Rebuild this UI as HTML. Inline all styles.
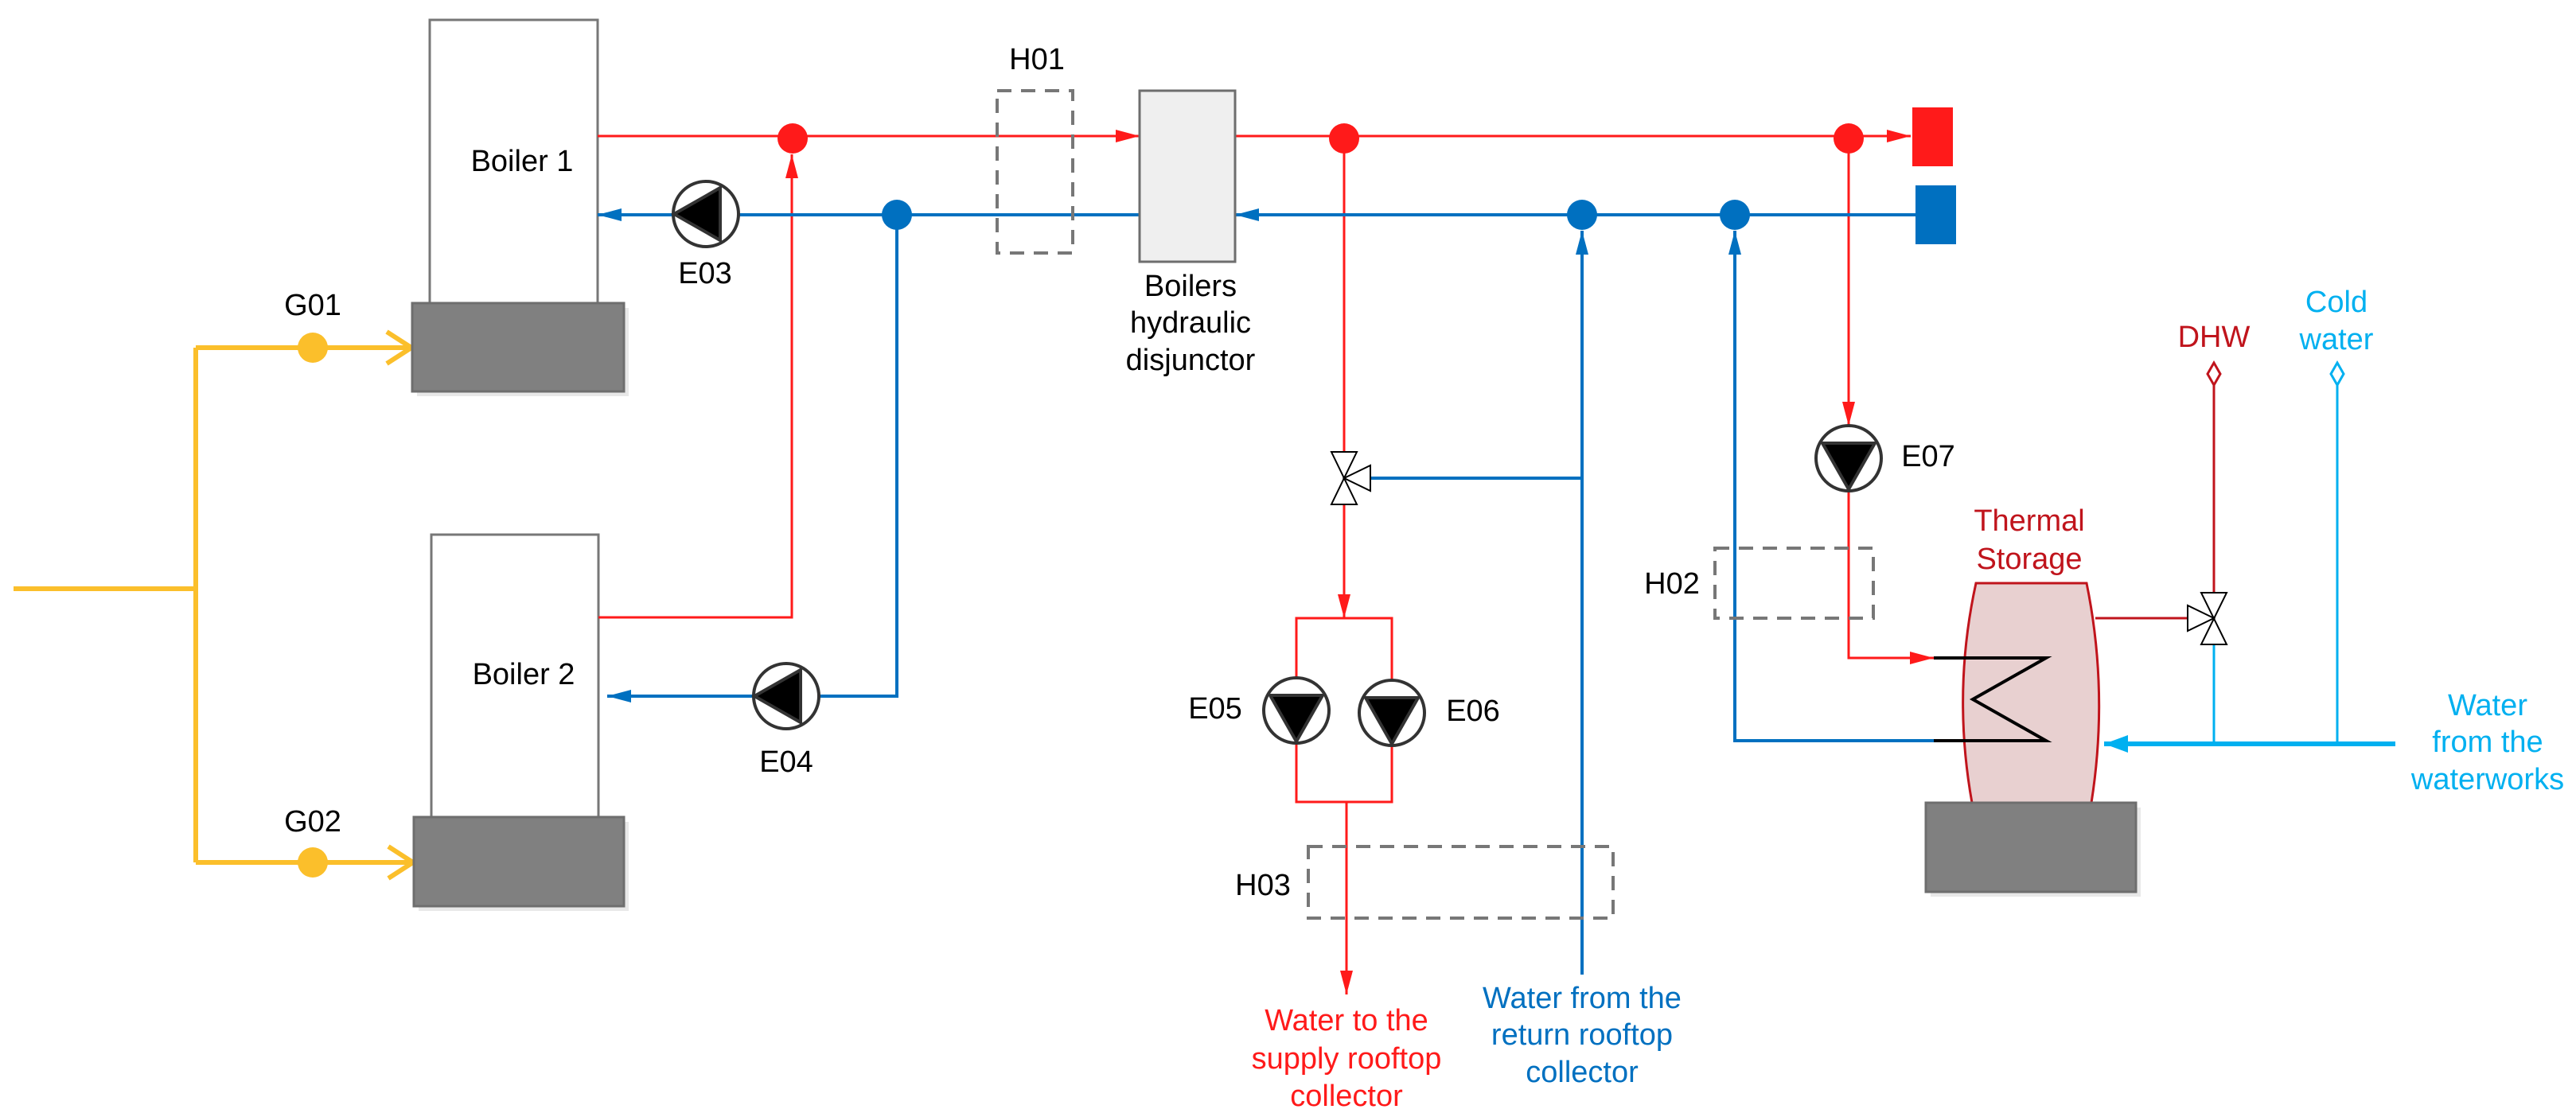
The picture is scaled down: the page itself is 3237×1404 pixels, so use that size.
<!DOCTYPE html>
<html><head><meta charset="utf-8"><style>
html,body{margin:0;padding:0;background:#fff}
svg{display:block}
text{font-family:"Liberation Sans",Arial,sans-serif;font-size:38px;text-anchor:middle;dominant-baseline:middle}
</style></head><body>
<svg width="3237" height="1404" viewBox="0 0 3237 1404" xmlns="http://www.w3.org/2000/svg">
<defs>
<marker id="ar" markerWidth="30" markerHeight="16" refX="30" refY="8" orient="auto" markerUnits="userSpaceOnUse"><path d="M0,0 L30,8 L0,16 Z" fill="#ff1a1a"/></marker>
<marker id="ab" markerWidth="30" markerHeight="16" refX="30" refY="8" orient="auto" markerUnits="userSpaceOnUse"><path d="M0,0 L30,8 L0,16 Z" fill="#0070c0"/></marker>
<marker id="ac" markerWidth="30" markerHeight="22" refX="30" refY="11" orient="auto" markerUnits="userSpaceOnUse"><path d="M0,0 L30,11 L0,22 Z" fill="#00b0f0"/></marker>
</defs>

<!-- Gas lines -->
<g stroke="#fbbf2b" stroke-width="6" fill="none">
<path d="M17,740 H246"/>
<path d="M246,437 V1084"/>
<path d="M246,437 H517"/>
<path d="M246,1084 H519"/>
<path d="M486,417 L517,437 L486,457"/>
<path d="M488,1064 L519,1084 L488,1104"/>
</g>
<circle cx="393" cy="437" r="19" fill="#fbbf2b"/>
<circle cx="393" cy="1084" r="19" fill="#fbbf2b"/>
<text x="393" y="386">G01</text>
<text x="393" y="1035">G02</text>

<!-- Boilers -->
<rect x="540" y="25" width="211" height="356" fill="#fff" stroke="#777" stroke-width="3"/>
<rect x="524" y="387" width="266" height="111" fill="#e8e8e8"/>
<rect x="518" y="381" width="266" height="111" fill="#808080" stroke="#6e6e6e" stroke-width="3"/>
<text x="656" y="205">Boiler 1</text>
<rect x="542" y="672" width="210" height="355" fill="#fff" stroke="#777" stroke-width="3"/>
<rect x="526" y="1033" width="264" height="112" fill="#e8e8e8"/>
<rect x="520" y="1027" width="264" height="112" fill="#808080" stroke="#6e6e6e" stroke-width="3"/>
<text x="658" y="850">Boiler 2</text>

<!-- Red supply network -->
<g stroke="#ff1a1a" stroke-width="3" fill="none">
<path d="M751,171 H1432" marker-end="url(#ar)"/>
<path d="M752,776 H995 V194" marker-end="url(#ar)"/>
<path d="M1552,171 H2401" marker-end="url(#ar)"/>
<path d="M1689,174 V568"/>
<path d="M1689,634 V777" marker-end="url(#ar)"/>
<path d="M1629,777 H1749 V1008 H1629 Z"/>
<path d="M1692,1008 V1250" marker-end="url(#ar)"/>
<path d="M2323,174 V535" marker-end="url(#ar)"/>
<path d="M2323,617 V827 H2430" marker-end="url(#ar)"/>
</g>
<g stroke="#c0141c" stroke-width="3" fill="none">
<path d="M2633,777 H2749"/>
<path d="M2782,484 V745"/>
<path d="M2782,456 L2790,470 L2782,484 L2774,470 Z" fill="#fff"/>
</g>

<!-- Blue return network -->
<g stroke="#0070c0" stroke-width="4" fill="none">
<path d="M2407,270 H1552" marker-end="url(#ab)"/>
<path d="M1432,270 H751" marker-end="url(#ab)"/>
<path d="M1127,270 V875 H763" marker-end="url(#ab)"/>
<path d="M1988,1225 V290" marker-end="url(#ab)"/>
<path d="M1722,601 H1988"/>
<path d="M2430,931 H2180 V290" marker-end="url(#ab)"/>
</g>
<!-- Cyan -->
<g stroke="#00b0f0" stroke-width="3" fill="none">
<path d="M2782,810 V935"/>
<path d="M2937,484 V935"/>
<path d="M2937,456 L2945,470 L2937,484 L2929,470 Z" fill="#fff"/>
</g>
<path d="M3010,935 H2644" stroke="#00b0f0" stroke-width="6" fill="none" marker-end="url(#ac)"/>

<!-- Dots -->
<g fill="#ff1a1a"><circle cx="996" cy="174" r="19"/><circle cx="1689" cy="174" r="19"/><circle cx="2323" cy="174" r="19"/></g>
<g fill="#0070c0"><circle cx="1127" cy="270" r="19"/><circle cx="1988" cy="270" r="19"/><circle cx="2180" cy="270" r="19"/></g>

<!-- Terminals -->
<rect x="2403" y="135" width="51" height="74" fill="#ff1a1a"/>
<rect x="2407" y="233" width="51" height="74" fill="#0070c0"/>

<!-- Dashed boxes -->
<g stroke="#777" stroke-width="4" stroke-dasharray="18,12" fill="none">
<rect x="1253" y="114" width="95" height="204"/>
<rect x="2155" y="689" width="199" height="88"/>
<rect x="1644" y="1064" width="383" height="90"/>
</g>
<text x="1303" y="77">H01</text>
<text x="2101" y="736">H02</text>
<text x="1587" y="1115">H03</text>

<!-- Disjunctor -->
<rect x="1432" y="114" width="120" height="215" fill="#efefef" stroke="#6e6e6e" stroke-width="3"/>
<text x="1496" y="362">Boilers</text>
<text x="1496" y="408">hydraulic</text>
<text x="1496" y="455">disjunctor</text>

<!-- Pumps -->
<g stroke="#333" stroke-width="4">
<circle cx="887" cy="269" r="41" fill="#fff"/>
<path d="M847,269 L905,236 L905,302 Z" fill="#000"/>
<circle cx="988" cy="875" r="41" fill="#fff"/>
<path d="M948,875 L1006,842 L1006,908 Z" fill="#000"/>
<circle cx="2323" cy="576" r="41" fill="#fff"/>
<path d="M2290,557 L2356,557 L2323,615 Z" fill="#000"/>
<circle cx="1629" cy="893" r="41" fill="#fff"/>
<path d="M1596,874 L1662,874 L1629,932 Z" fill="#000"/>
<circle cx="1749" cy="896" r="41" fill="#fff"/>
<path d="M1716,877 L1782,877 L1749,935 Z" fill="#000"/>
</g>
<text x="886" y="346">E03</text>
<text x="988" y="960">E04</text>
<text x="1527" y="893">E05</text>
<text x="1851" y="896">E06</text>
<text x="2423" y="576">E07</text>

<!-- Three-way valves -->
<g stroke="#000" stroke-width="2" fill="#fff">
<path d="M1673,568 L1705,568 L1673,634 L1705,634 Z"/>
<path d="M1689,601 L1722,585 L1722,617 Z"/>
<path d="M2766,745 L2798,745 L2766,810 L2798,810 Z"/>
<path d="M2782,777 L2749,761 L2749,793 Z"/>
</g>

<!-- Thermal storage -->
<rect x="2426" y="1015" width="264" height="112" fill="#e8e8e8"/>
<path d="M2483,733 H2622 Q2650,870 2628,1009 H2478 Q2453,870 2483,733 Z" fill="#e8d0d0" stroke="#c0141c" stroke-width="3"/>
<rect x="2420" y="1009" width="264" height="112" fill="#808080" stroke="#6e6e6e" stroke-width="3"/>
<path d="M2430,827 H2571 L2479,879 L2571,931 H2430" stroke="#000" stroke-width="4" fill="none"/>

<!-- Labels -->
<g fill="#c0141c">
<text x="2782" y="426">DHW</text>
<text x="2550" y="657">Thermal</text>
<text x="2550" y="705">Storage</text>
</g>
<g fill="#00b0f0">
<text x="2936" y="382">Cold</text>
<text x="2936" y="429">water</text>
<text x="3126" y="889">Water</text>
<text x="3126" y="935">from the</text>
<text x="3126" y="982">waterworks</text>
</g>
<g fill="#ff1a1a">
<text x="1692" y="1285">Water to the</text>
<text x="1692" y="1333">supply rooftop</text>
<text x="1692" y="1380">collector</text>
</g>
<g fill="#0070c0">
<text x="1988" y="1257">Water from the</text>
<text x="1988" y="1303">return rooftop</text>
<text x="1988" y="1350">collector</text>
</g>
</svg>
</body></html>
